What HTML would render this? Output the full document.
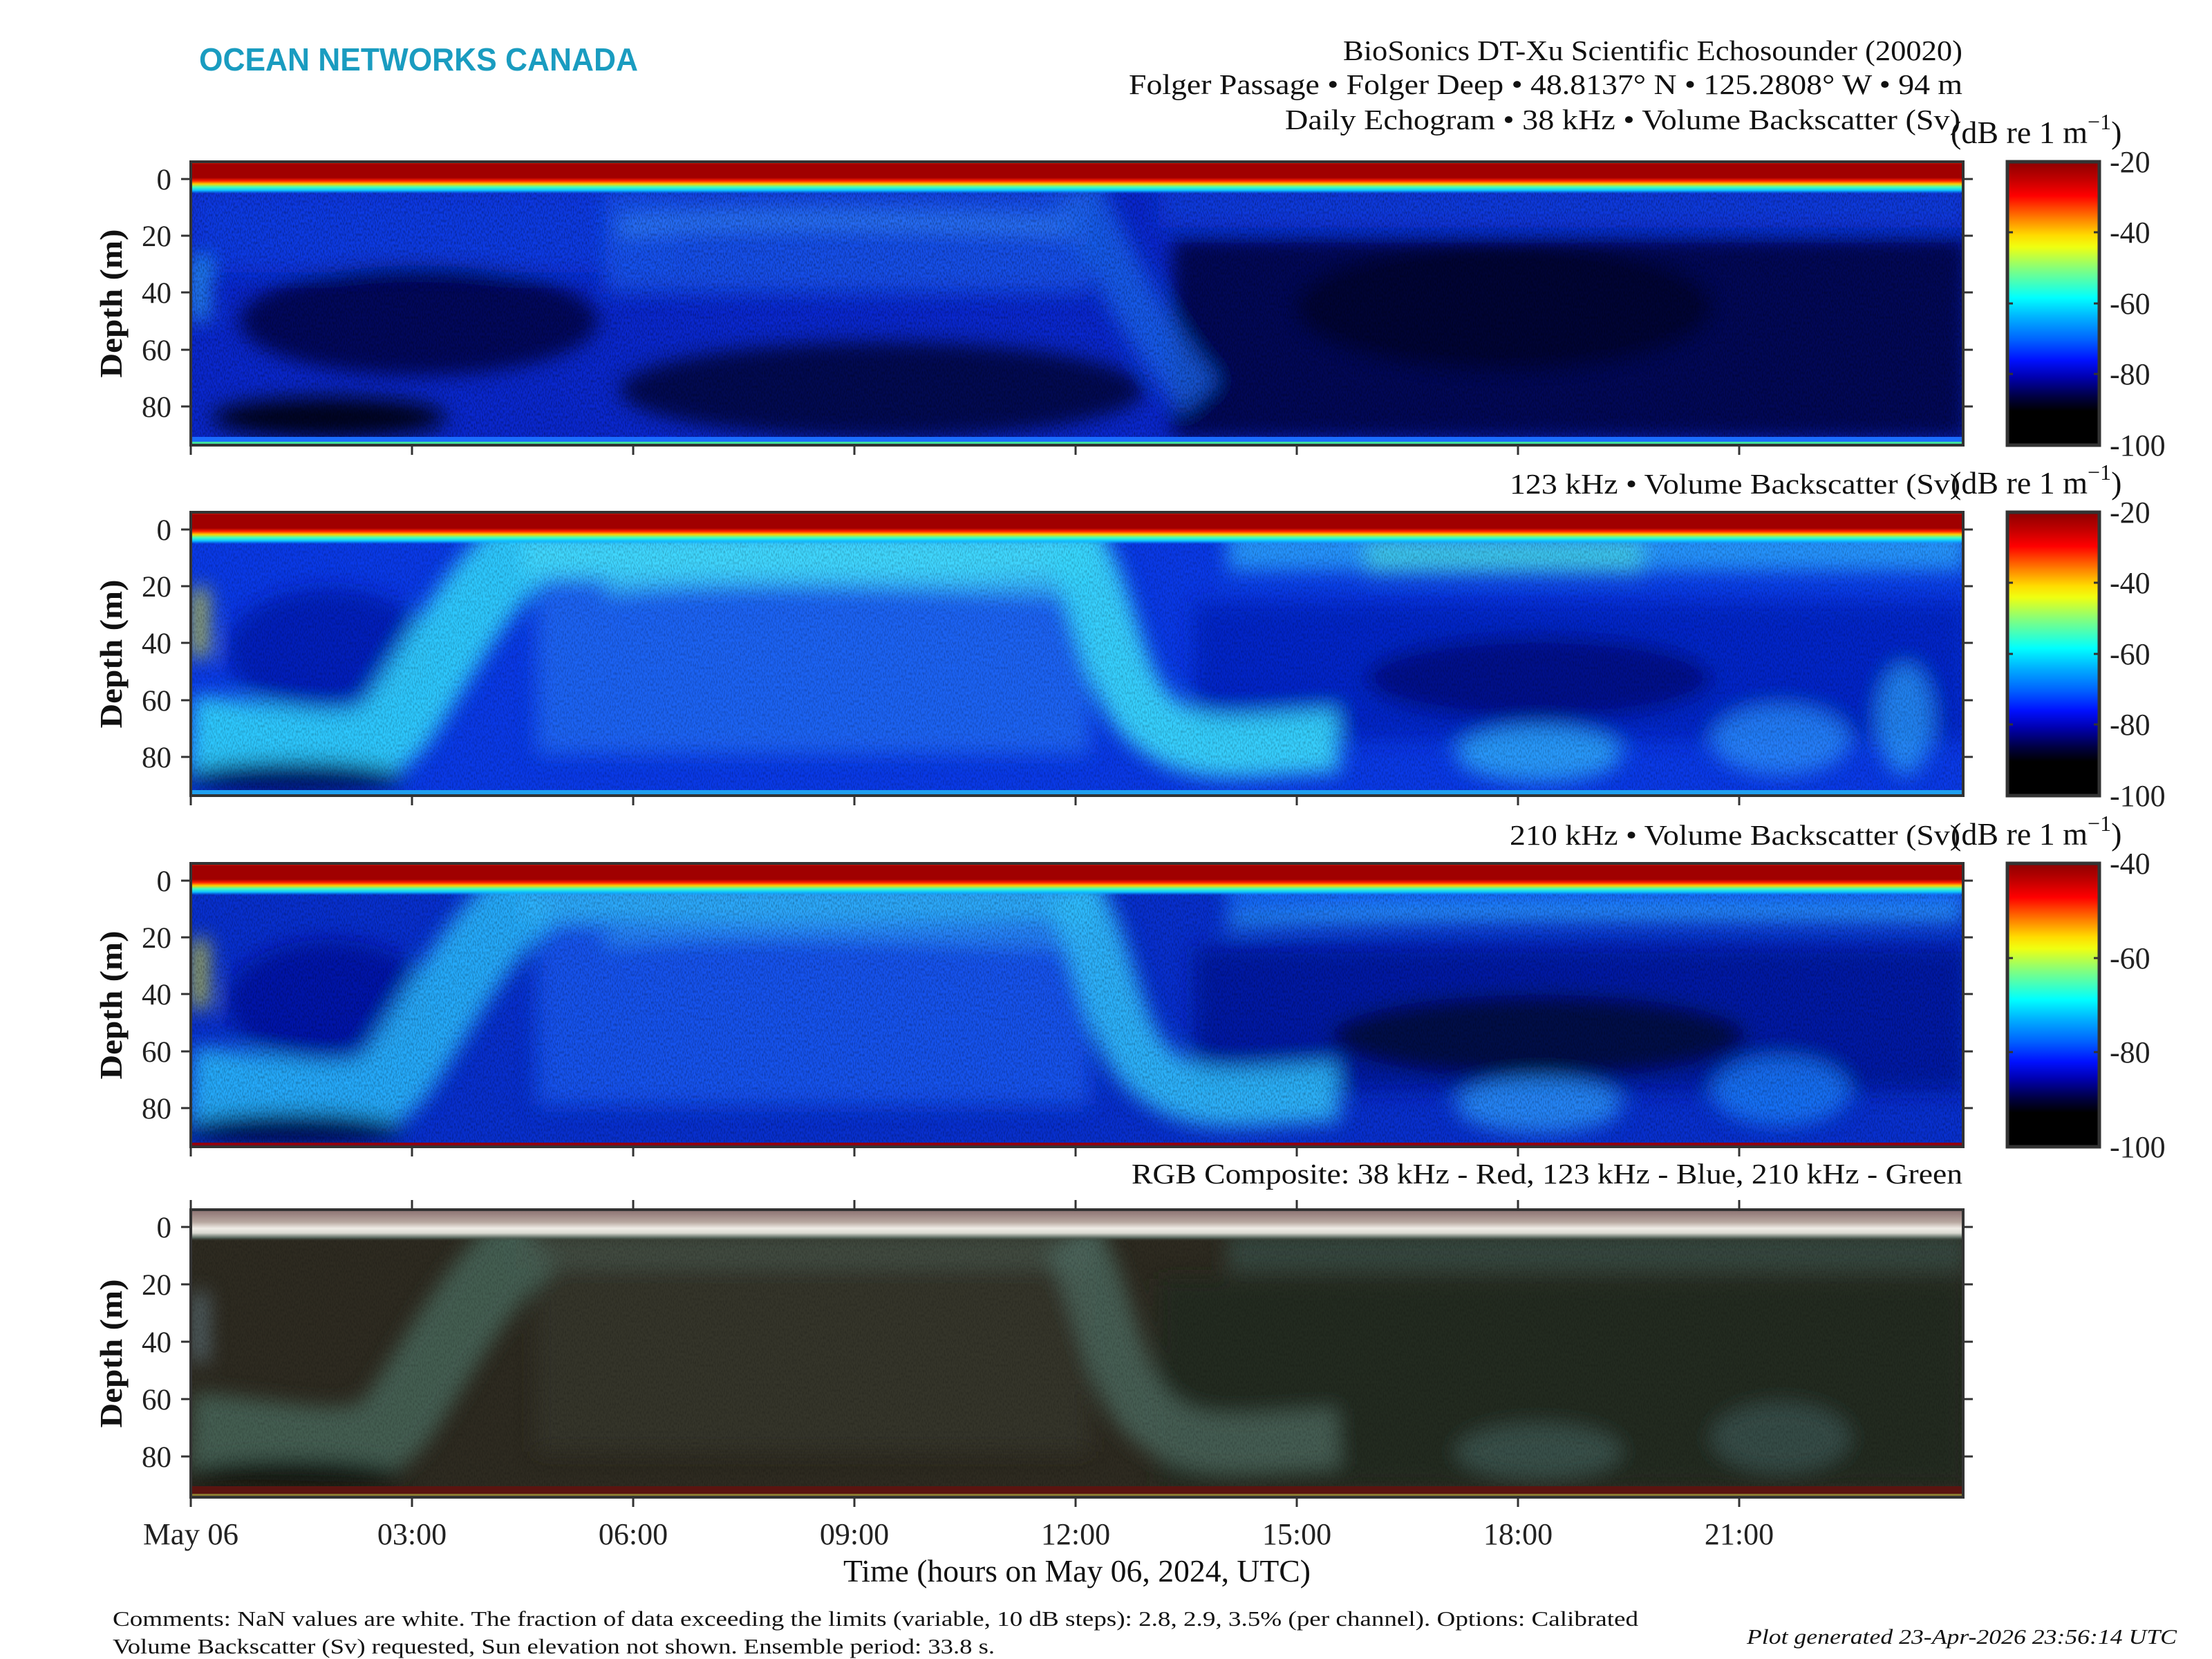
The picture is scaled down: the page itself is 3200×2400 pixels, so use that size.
<!DOCTYPE html>
<html><head><meta charset="utf-8"><style>html,body{margin:0;padding:0;background:#fff}svg{display:block}</style></head>
<body>
<svg width="3200" height="2400" viewBox="0 0 3200 2400" xmlns="http://www.w3.org/2000/svg" font-family="Liberation Serif, serif">
<defs>
<linearGradient id="cb" x1="0" y1="0" x2="0" y2="1">
<stop offset="0" stop-color="#8b0000"/><stop offset="0.06" stop-color="#c00000"/><stop offset="0.12" stop-color="#ff0000"/>
<stop offset="0.2" stop-color="#ff8000"/><stop offset="0.26" stop-color="#ffdc00"/><stop offset="0.3" stop-color="#f0ff10"/>
<stop offset="0.38" stop-color="#80ff80"/><stop offset="0.48" stop-color="#00ffff"/><stop offset="0.55" stop-color="#00b0ff"/>
<stop offset="0.63" stop-color="#0060ff"/><stop offset="0.7" stop-color="#0010ff"/><stop offset="0.76" stop-color="#0000b0"/>
<stop offset="0.83" stop-color="#000040"/><stop offset="0.88" stop-color="#000000"/><stop offset="1" stop-color="#000000"/>
</linearGradient>
<linearGradient id="topband" x1="0" y1="0" x2="0" y2="1">
<stop offset="0" stop-color="#ff3000"/><stop offset="0.08" stop-color="#a00000"/><stop offset="0.5" stop-color="#a00000"/>
<stop offset="0.6" stop-color="#ff2000"/><stop offset="0.7" stop-color="#ffd000"/><stop offset="0.8" stop-color="#40ffc0"/><stop offset="0.9" stop-color="#10c0ff"/><stop offset="1" stop-color="#00a0ff" stop-opacity="0"/>
</linearGradient>
<linearGradient id="rgbtop" x1="0" y1="0" x2="0" y2="1">
<stop offset="0" stop-color="#8a7070"/><stop offset="0.4" stop-color="#b8a8a0"/><stop offset="0.6" stop-color="#f0ece6"/>
<stop offset="0.75" stop-color="#d8d8d0"/><stop offset="0.9" stop-color="#5a6a60"/><stop offset="1" stop-color="#3a4038" stop-opacity="0"/>
</linearGradient>
<filter id="bl" x="-10%" y="-10%" width="120%" height="120%"><feGaussianBlur stdDeviation="14"/></filter>
<filter id="noise" x="0" y="0" width="100%" height="100%">
<feTurbulence type="fractalNoise" baseFrequency="0.6 0.25" numOctaves="1" seed="3"/>
<feColorMatrix type="matrix" values="0 0 0 0 0  0 0 0 0 0  0 0 0 0 0  0 0 0 -2.2 1.35"/>
</filter>
<clipPath id="cp"><rect x="0" y="0" width="2564" height="410"/></clipPath>
<clipPath id="cp4"><rect x="0" y="0" width="2564" height="416"/></clipPath>
</defs>

<text x="288" y="102" font-family="Liberation Sans, sans-serif" font-weight="bold" font-size="46" fill="#1a9cc0" textLength="635" lengthAdjust="spacingAndGlyphs">OCEAN NETWORKS CANADA</text>

<g font-size="41" fill="#111" text-anchor="end">
<text x="2839" y="87" textLength="896" lengthAdjust="spacingAndGlyphs">BioSonics DT-Xu Scientific Echosounder (20020)</text>
<text x="2839" y="136" textLength="1206" lengthAdjust="spacingAndGlyphs">Folger Passage • Folger Deep • 48.8137° N • 125.2808° W • 94 m</text>
<text x="2836" y="187" textLength="977" lengthAdjust="spacingAndGlyphs">Daily Echogram • 38 kHz • Volume Backscatter (Sv)</text>
<text x="2836" y="714" textLength="652" lengthAdjust="spacingAndGlyphs">123 kHz • Volume Backscatter (Sv)</text>
<text x="2836" y="1222" textLength="652" lengthAdjust="spacingAndGlyphs">210 kHz • Volume Backscatter (Sv)</text>
<text x="2839" y="1712" textLength="1202" lengthAdjust="spacingAndGlyphs">RGB Composite: 38 kHz - Red, 123 kHz - Blue, 210 kHz - Green</text>
</g>
<g font-size="46" fill="#111">
<text x="2822" y="207">(dB re 1 m<tspan dy="-20" font-size="32">−1</tspan><tspan dy="20">)</tspan></text>
<text x="2822" y="714">(dB re 1 m<tspan dy="-20" font-size="32">−1</tspan><tspan dy="20">)</tspan></text>
<text x="2822" y="1222">(dB re 1 m<tspan dy="-20" font-size="32">−1</tspan><tspan dy="20">)</tspan></text>
</g>

<!-- Panel 1 -->
<g transform="translate(276,234)">
<g clip-path="url(#cp)">
<rect width="2564" height="410" fill="#0a28d0"/>
<g filter="url(#bl)">
<rect x="0" y="40" width="700" height="120" fill="#0a3ae4"/>
<ellipse cx="330" cy="230" rx="260" ry="80" fill="#000840" opacity="0.8"/>
<ellipse cx="200" cy="370" rx="170" ry="30" fill="#000010" opacity="0.9"/>
<ellipse cx="1000" cy="330" rx="380" ry="70" fill="#00052a" opacity="0.75"/>
<rect x="1420" y="110" width="1150" height="290" fill="#000838" opacity="0.8"/>
<ellipse cx="1900" cy="210" rx="300" ry="90" fill="#000010" opacity="0.5"/>
<rect x="600" y="40" width="700" height="150" fill="#1a58f0" opacity="0.8"/>
<path d="M 620,95 C 800,80 1000,85 1280,95" stroke="#3a90ff" stroke-width="18" fill="none" opacity="0.8"/>
<path d="M 1280,40 C 1320,120 1380,250 1460,340" stroke="#1a66f0" stroke-width="70" fill="none" opacity="0.8"/>
<rect x="1400" y="35" width="1170" height="60" fill="#1040e0" opacity="0.8"/>
<rect x="0" y="140" width="25" height="90" fill="#30b0ff" opacity="0.8"/>
</g>
<rect width="2564" height="410" filter="url(#noise)" fill="#000" opacity="0.35"/>
<rect x="0" y="0" width="2564" height="46" fill="url(#topband)"/>
<rect x="0" y="398" width="2564" height="8" fill="#1a6cff"/>
<rect x="0" y="405" width="2564" height="5" fill="#40e0a0"/>
</g>
</g>

<!-- Panel 2 -->
<g transform="translate(276,741)">
<g clip-path="url(#cp)">
<rect width="2564" height="410" fill="#0a3ae8"/>
<g filter="url(#bl)">
<rect x="500" y="80" width="800" height="270" fill="#1a64f4"/>
<ellipse cx="200" cy="200" rx="150" ry="90" fill="#0018b0" opacity="0.8"/>
<rect x="1450" y="130" width="1120" height="200" fill="#0022c0" opacity="0.8"/>
<ellipse cx="1950" cy="240" rx="250" ry="60" fill="#000a70" opacity="0.7"/>
<path d="M 0,320 C 150,330 250,370 300,300 S 420,90 500,40" stroke="#30d0ff" stroke-width="110" fill="none" opacity="0.95"/>
<rect x="480" y="25" width="830" height="70" fill="#40d8ff"/>
<path d="M 600,108 C 800,90 1000,100 1260,110" stroke="#40d0ff" stroke-width="20" fill="none" opacity="0.8"/>
<path d="M 1270,40 C 1320,100 1330,250 1390,300 S 1500,340 1660,330" stroke="#38d8ff" stroke-width="90" fill="none" opacity="0.95"/>
<rect x="1500" y="25" width="1070" height="60" fill="#2aa0ff" opacity="0.9"/>
<rect x="1700" y="40" width="400" height="50" fill="#50e8e0" opacity="0.6"/>
<ellipse cx="1950" cy="350" rx="120" ry="40" fill="#30b0ff" opacity="0.8"/>
<ellipse cx="2300" cy="330" rx="100" ry="50" fill="#2a90ff" opacity="0.8"/>
<ellipse cx="2480" cy="300" rx="40" ry="80" fill="#30a8ff" opacity="0.7"/>
<ellipse cx="150" cy="385" rx="160" ry="25" fill="#000a60" opacity="0.9"/>
<rect x="0" y="110" width="25" height="100" fill="#e0e020" opacity="0.8"/>
</g>
<rect width="2564" height="410" filter="url(#noise)" fill="#000" opacity="0.25"/>
<rect x="0" y="0" width="2564" height="46" fill="url(#topband)"/>
<rect x="0" y="402" width="2564" height="8" fill="#20a0f0"/>
</g>
</g>

<!-- Panel 3 -->
<g transform="translate(276,1249)">
<g clip-path="url(#cp)">
<rect width="2564" height="410" fill="#0830d0"/>
<g filter="url(#bl)">
<rect x="500" y="80" width="800" height="270" fill="#1452ee"/>
<ellipse cx="200" cy="200" rx="150" ry="90" fill="#0010a0" opacity="0.8"/>
<rect x="1450" y="120" width="1120" height="210" fill="#0018a0" opacity="0.9"/>
<ellipse cx="1950" cy="250" rx="300" ry="60" fill="#000430" opacity="0.8"/>
<path d="M 0,320 C 150,330 250,370 300,300 S 420,90 500,40" stroke="#28b8ff" stroke-width="110" fill="none" opacity="0.9"/>
<rect x="480" y="25" width="830" height="60" fill="#30b8ff" opacity="0.9"/>
<path d="M 600,108 C 800,90 1000,100 1260,110" stroke="#30a0ff" stroke-width="20" fill="none" opacity="0.8"/>
<path d="M 1270,40 C 1320,100 1330,250 1390,300 S 1500,340 1660,330" stroke="#30c0ff" stroke-width="85" fill="none" opacity="0.9"/>
<rect x="1500" y="25" width="1070" height="45" fill="#1a70ff" opacity="0.9"/>
<path d="M 1500,85 C 1800,70 2100,75 2564,75" stroke="#30b0ff" stroke-width="14" fill="none"/>
<ellipse cx="1950" cy="350" rx="120" ry="40" fill="#2a98ff" opacity="0.8"/>
<ellipse cx="2300" cy="330" rx="100" ry="50" fill="#1a80ff" opacity="0.8"/>
<ellipse cx="150" cy="385" rx="160" ry="25" fill="#000850" opacity="0.9"/>
<rect x="0" y="110" width="25" height="100" fill="#e0e020" opacity="0.8"/>
</g>
<rect width="2564" height="410" filter="url(#noise)" fill="#000" opacity="0.3"/>
<rect x="0" y="0" width="2564" height="46" fill="url(#topband)"/>
<rect x="0" y="404" width="2564" height="6" fill="#900010"/>
</g>
</g>

<!-- Panel 4 -->
<g transform="translate(276,1750)">
<g clip-path="url(#cp4)">
<rect width="2564" height="416" fill="#2e2b21"/>
<g filter="url(#bl)">
<rect x="1400" y="100" width="1170" height="300" fill="#22291f" opacity="0.8"/>
<rect x="500" y="80" width="800" height="270" fill="#363529"/>
<path d="M 0,320 C 150,330 250,370 300,300 S 420,90 500,40" stroke="#4a6a5e" stroke-width="110" fill="none" opacity="0.8"/>
<rect x="480" y="35" width="830" height="50" fill="#4a5a50" opacity="0.7"/>
<path d="M 1270,40 C 1320,100 1330,250 1390,300 S 1500,340 1660,330" stroke="#4d6a60" stroke-width="85" fill="none" opacity="0.8"/>
<rect x="1500" y="35" width="1070" height="55" fill="#3a5048" opacity="0.8"/>
<ellipse cx="1950" cy="350" rx="120" ry="40" fill="#3f5a52" opacity="0.8"/>
<ellipse cx="2300" cy="330" rx="100" ry="50" fill="#3a5550" opacity="0.8"/>
<ellipse cx="150" cy="385" rx="160" ry="25" fill="#151510" opacity="0.9"/>
<rect x="0" y="120" width="25" height="100" fill="#7090a0" opacity="0.6"/>
</g>
<rect width="2564" height="416" filter="url(#noise)" fill="#000" opacity="0.2"/>
<rect x="0" y="0" width="2564" height="45" fill="url(#rgbtop)"/>
<rect x="0" y="400" width="2564" height="12" fill="#5a1410"/>
<rect x="0" y="411" width="2564" height="5" fill="#8a7a30"/>
</g>
</g>

<g stroke="#333" stroke-width="4" fill="none">
<rect x="276" y="234" width="2564" height="410"/>
<rect x="276" y="741" width="2564" height="410"/>
<rect x="276" y="1249" width="2564" height="410"/>
<rect x="276" y="1750" width="2564" height="416"/>
</g>
<g stroke="#333" stroke-width="3">
<path d="M276,644v14 M596,644v14 M916,644v14 M1236,644v14 M1556,644v14 M1876,644v14 M2196,644v14 M2516,644v14"/>
<path d="M276,1151v14 M596,1151v14 M916,1151v14 M1236,1151v14 M1556,1151v14 M1876,1151v14 M2196,1151v14 M2516,1151v14"/>
<path d="M276,1659v14 M596,1659v14 M916,1659v14 M1236,1659v14 M1556,1659v14 M1876,1659v14 M2196,1659v14 M2516,1659v14"/>
<path d="M276,1750v-14 M596,1750v-14 M916,1750v-14 M1236,1750v-14 M1556,1750v-14 M1876,1750v-14 M2196,1750v-14 M2516,1750v-14"/>
<path d="M276,2166v14 M596,2166v14 M916,2166v14 M1236,2166v14 M1556,2166v14 M1876,2166v14 M2196,2166v14 M2516,2166v14"/>
<path d="M276,259h-14 M276,341h-14 M276,423h-14 M276,506h-14 M276,588h-14 M2840,259h14 M2840,341h14 M2840,423h14 M2840,506h14 M2840,588h14"/>
<path d="M276,766h-14 M276,848h-14 M276,930h-14 M276,1013h-14 M276,1095h-14 M2840,766h14 M2840,848h14 M2840,930h14 M2840,1013h14 M2840,1095h14"/>
<path d="M276,1274h-14 M276,1356h-14 M276,1438h-14 M276,1521h-14 M276,1603h-14 M2840,1274h14 M2840,1356h14 M2840,1438h14 M2840,1521h14 M2840,1603h14"/>
<path d="M276,1775h-14 M276,1858h-14 M276,1941h-14 M276,2024h-14 M276,2107h-14 M2840,1775h14 M2840,1858h14 M2840,1941h14 M2840,2024h14 M2840,2107h14"/>
</g>

<g font-size="43" fill="#222" text-anchor="end">
<text x="248" y="274">0</text><text x="248" y="356">20</text><text x="248" y="438">40</text><text x="248" y="521">60</text><text x="248" y="603">80</text>
<text x="248" y="781">0</text><text x="248" y="863">20</text><text x="248" y="945">40</text><text x="248" y="1028">60</text><text x="248" y="1110">80</text>
<text x="248" y="1289">0</text><text x="248" y="1371">20</text><text x="248" y="1453">40</text><text x="248" y="1536">60</text><text x="248" y="1618">80</text>
<text x="248" y="1790">0</text><text x="248" y="1873">20</text><text x="248" y="1956">40</text><text x="248" y="2039">60</text><text x="248" y="2122">80</text>
</g>
<g font-size="46" fill="#111" text-anchor="middle" font-weight="bold">
<text transform="translate(176,439) rotate(-90)" textLength="215" lengthAdjust="spacingAndGlyphs">Depth (m)</text>
<text transform="translate(176,946) rotate(-90)" textLength="215" lengthAdjust="spacingAndGlyphs">Depth (m)</text>
<text transform="translate(176,1454) rotate(-90)" textLength="215" lengthAdjust="spacingAndGlyphs">Depth (m)</text>
<text transform="translate(176,1958) rotate(-90)" textLength="215" lengthAdjust="spacingAndGlyphs">Depth (m)</text>
</g>

<g>
<rect x="2904" y="234" width="133" height="410" fill="url(#cb)" stroke="#333" stroke-width="5"/>
<rect x="2904" y="741" width="133" height="410" fill="url(#cb)" stroke="#333" stroke-width="5"/>
<rect x="2904" y="1249" width="133" height="410" fill="url(#cb)" stroke="#333" stroke-width="5"/>
</g>
<g stroke="#333" stroke-width="3">
<path d="M2904,336h8 M3037,336h-8 M2904,439h8 M3037,439h-8 M2904,541h8 M3037,541h-8"/>
<path d="M2904,843h8 M3037,843h-8 M2904,946h8 M3037,946h-8 M2904,1048h8 M3037,1048h-8"/>
<path d="M2904,1386h8 M3037,1386h-8 M2904,1522h8 M3037,1522h-8"/>
</g>
<g font-size="44" fill="#222">
<text x="3052" y="249">-20</text><text x="3052" y="351">-40</text><text x="3052" y="454">-60</text><text x="3052" y="556">-80</text><text x="3052" y="659">-100</text>
<text x="3052" y="756">-20</text><text x="3052" y="858">-40</text><text x="3052" y="961">-60</text><text x="3052" y="1063">-80</text><text x="3052" y="1166">-100</text>
<text x="3052" y="1264">-40</text><text x="3052" y="1401">-60</text><text x="3052" y="1537">-80</text><text x="3052" y="1674">-100</text>
</g>

<g font-size="44" fill="#222" text-anchor="middle">
<text x="276" y="2234" textLength="138" lengthAdjust="spacingAndGlyphs">May 06</text><text x="596" y="2234">03:00</text><text x="916" y="2234">06:00</text><text x="1236" y="2234">09:00</text>
<text x="1556" y="2234">12:00</text><text x="1876" y="2234">15:00</text><text x="2196" y="2234">18:00</text><text x="2516" y="2234">21:00</text>
</g>
<text x="1558" y="2288" font-size="46" fill="#111" text-anchor="middle" textLength="676" lengthAdjust="spacingAndGlyphs">Time (hours on May 06, 2024, UTC)</text>

<g font-size="31" fill="#111">
<text x="163" y="2352" textLength="2207" lengthAdjust="spacingAndGlyphs">Comments: NaN values are white. The fraction of data exceeding the limits (variable, 10 dB steps): 2.8, 2.9, 3.5% (per channel). Options: Calibrated</text>
<text x="163" y="2392" textLength="1276" lengthAdjust="spacingAndGlyphs">Volume Backscatter (Sv) requested, Sun elevation not shown. Ensemble period: 33.8 s.</text>
<text x="3149" y="2378" font-style="italic" text-anchor="end" textLength="622" lengthAdjust="spacingAndGlyphs">Plot generated 23-Apr-2026 23:56:14 UTC</text>
</g>
</svg>
</body></html>
